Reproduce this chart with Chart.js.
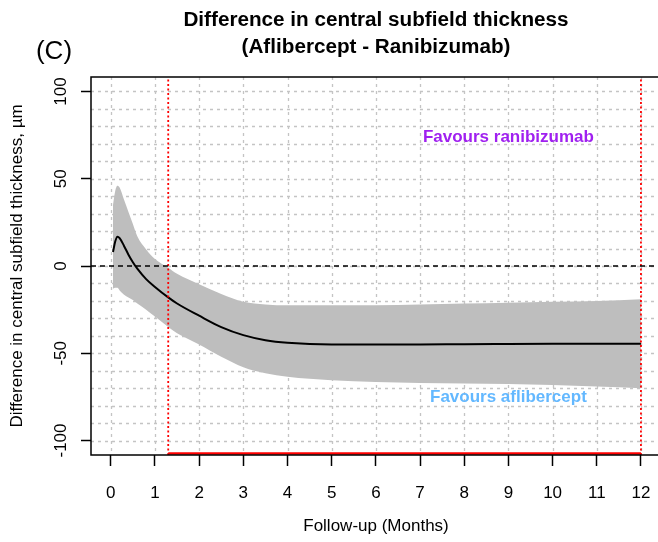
<!DOCTYPE html>
<html>
<head>
<meta charset="utf-8">
<script src="https://cdn.jsdelivr.net/npm/chart.js@4.4.0/dist/chart.umd.min.js"></script>
<style>
  html, body { margin: 0; padding: 0; background: #fff; }
  canvas { display: block; }
</style>
</head>
<body>
<canvas id="myChart" width="658" height="542"></canvas>
<script>
// Data
const months   = [0.05, 0.1, 0.15, 0.2, 0.3, 0.4, 0.5, 0.6, 0.8, 1.0, 1.3, 1.5, 2.0, 2.5, 3.0, 3.5, 4.0, 5, 6, 7, 8, 9, 10, 11, 12];
const meanDiff = [8, 14, 16.8, 16, 11.5, 6.5, 2.2, -1.5, -7.5, -12, -18, -21.5, -28.5, -35, -39.6, -42.5, -44, -45, -45, -45, -44.8, -44.7, -44.6, -44.5, -44.5];
const upperCI  = [35, 43, 46, 45, 38, 31, 24, 17, 9.5, 4, -1, -4.5, -10.5, -16, -20.5, -22, -22.5, -22.5, -22.5, -22, -21.5, -21, -20.5, -20, -19];
const lowerCI  = [-13, -12.5, -12.5, -14, -16.5, -18, -19.5, -21.5, -25, -29, -35, -38.5, -45, -52, -58, -61.5, -63.5, -65.5, -66.5, -67, -67.3, -67.6, -68.2, -69, -70];

const xTicks = [0, 1, 2, 3, 4, 5, 6, 7, 8, 9, 10, 11, 12];
const yTicks = [-100, -50, 0, 50, 100];
const yGrid  = [-100, -90, -80, -70, -60, -50, -40, -30, -20, -10, 0, 10, 20, 30, 40, 50, 60, 70, 80, 90, 100];

const xRange = [-0.448, 12.386];
const yRange = [-108.3, 108.3];

const cutLines = [1.3, 12];     // red dotted verticals
const rugSpan = [1.3, 12];      // red line along the bottom
const rugLevel = -107.5;

const labelTop = { text: "Favours ranibizumab", x: 9, y: 74, color: "#A020F0" };
const labelBottom = { text: "Favours aflibercept", x: 9, y: -75.5, color: "#63B8FF" };

const FONT = "'Liberation Sans', Arial, Helvetica, sans-serif";

function pts(xs, ys) {
    return xs.map((x, i) => ({ x: x, y: ys[i] }));
}

// grid, frame, texts
const extras = {
    id: "extras",
    beforeDatasetsDraw(chart) {
        const ctx = chart.ctx;
        const a = chart.chartArea;
        const xs = chart.scales.x, ys = chart.scales.y;
        ctx.save();
        ctx.strokeStyle = "#c4c4c4";
        ctx.lineWidth = 1.3;
        ctx.setLineDash([3, 4]);
        xTicks.forEach(v => {
            const px = Math.round(xs.getPixelForValue(v)) + 0.5;
            ctx.beginPath();
            ctx.moveTo(px, a.top);
            ctx.lineTo(px, a.bottom);
            ctx.stroke();
        });
        yGrid.forEach(v => {
            const py = Math.round(ys.getPixelForValue(v)) + 0.5;
            ctx.beginPath();
            ctx.moveTo(a.left, py);
            ctx.lineTo(a.right, py);
            ctx.stroke();
        });
        ctx.restore();
    },
    afterDraw(chart) {
        const ctx = chart.ctx;
        const a = chart.chartArea;
        const xs = chart.scales.x, ys = chart.scales.y;
        ctx.save();

        // frame (right side falls off the canvas)
        ctx.strokeStyle = "#000";
        ctx.lineWidth = 1.5;
        ctx.strokeRect(a.left, a.top, a.right - a.left + 10, a.bottom - a.top);

        // y tick labels, rotated like R
        ctx.fillStyle = "#000";
        ctx.font = "17px " + FONT;
        ctx.textAlign = "center";
        ctx.textBaseline = "middle";
        yTicks.forEach(v => {
            ctx.save();
            ctx.translate(61, ys.getPixelForValue(v));
            ctx.rotate(-Math.PI / 2);
            ctx.fillText(String(v), 0, 0);
            ctx.restore();
        });

        // axis titles
        ctx.fillText("Follow-up (Months)", 376, 526);
        ctx.save();
        ctx.translate(17, (a.top + a.bottom) / 2);
        ctx.rotate(-Math.PI / 2);
        ctx.fillText("Difference in central subfield thickness, \u00b5m", 0, 0);
        ctx.restore();

        // main title
        ctx.font = "bold 20.7px " + FONT;
        ctx.fillText("Difference in central subfield thickness", 376, 20);
        ctx.fillText("(Aflibercept - Ranibizumab)", 376, 47);

        ctx.font = "26px " + FONT;
        ctx.fillText("(C)", 54, 52);

        // favours labels
        ctx.font = "bold 17px " + FONT;
        [labelTop, labelBottom].forEach(l => {
            ctx.fillStyle = l.color;
            ctx.fillText(l.text, xs.getPixelForValue(l.x), ys.getPixelForValue(l.y));
        });
        ctx.restore();
    }
};

new Chart("myChart", {
    type: "line",
    data: {
        datasets: [
            {   // zero reference
                data: pts(xRange, [0, 0]),
                borderColor: "#000",
                borderWidth: 1.5,
                borderDash: [5, 4],
                pointRadius: 0,
                order: 1
            },
            {
                data: pts([cutLines[0], cutLines[0]], yRange),
                borderColor: "#ff0000",
                borderWidth: 1.8,
                borderDash: [2, 2.5],
                pointRadius: 0,
                order: 1
            },
            {
                data: pts([cutLines[1], cutLines[1]], yRange),
                borderColor: "#ff0000",
                borderWidth: 1.8,
                borderDash: [2, 2.5],
                pointRadius: 0,
                order: 1
            },
            {
                data: pts(rugSpan, [rugLevel, rugLevel]),
                borderColor: "#ff0000",
                borderWidth: 2.5,
                pointRadius: 0,
                clip: false,
                order: 1
            },
            {   // mean difference
                data: pts(months, meanDiff),
                borderColor: "#000",
                borderWidth: 2,
                pointRadius: 0,
                cubicInterpolationMode: "monotone",
                order: 2
            },
            {   // upper limit
                data: pts(months, upperCI),
                borderColor: "rgba(0,0,0,0)",
                borderWidth: 0,
                backgroundColor: "#BEBEBE",
                fill: "+1",
                pointRadius: 0,
                cubicInterpolationMode: "monotone",
                order: 5
            },
            {   // lower limit
                data: pts(months, lowerCI),
                borderColor: "rgba(0,0,0,0)",
                borderWidth: 0,
                pointRadius: 0,
                cubicInterpolationMode: "monotone",
                order: 5
            }
        ]
    },
    options: {
        responsive: false,
        animation: false,
        layout: { padding: { top: 77, right: 0, left: 0, bottom: 0 } },
        plugins: {
            legend: { display: false },
            tooltip: { enabled: false },
            title: { display: false }
        },
        scales: {
            x: {
                type: "linear",
                min: xRange[0],
                max: xRange[1],
                border: { display: false },
                grid: { drawOnChartArea: false, drawTicks: true, tickLength: 11, tickColor: "#000", tickWidth: 1.5 },
                ticks: {
                    stepSize: 1,
                    includeBounds: false,
                    autoSkip: false,
                    maxRotation: 0,
                    padding: 17,
                    color: "#000",
                    font: { family: FONT, size: 17 }
                },
                afterFit(s) { s.height = 87; s.paddingLeft = 0; s.paddingRight = 0; }
            },
            y: {
                type: "linear",
                min: yRange[0],
                max: yRange[1],
                border: { display: false },
                grid: { drawOnChartArea: false, drawTicks: true, tickLength: 10, tickColor: "#000", tickWidth: 1.5 },
                ticks: { stepSize: 50, includeBounds: false, display: false },
                afterFit(s) { s.width = 91; s.paddingTop = 0; s.paddingBottom = 0; }
            }
        }
    },
    plugins: [extras]
});
</script>
</body>
</html>
